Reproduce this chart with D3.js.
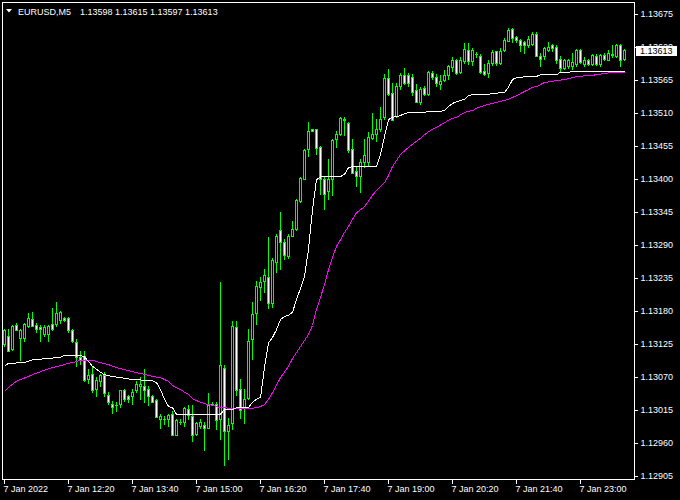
<!DOCTYPE html>
<html><head><meta charset="utf-8">
<script src="https://cdn.jsdelivr.net/npm/d3@7"></script>
<style>html,body{margin:0;padding:0;background:#000;overflow:hidden}</style>
</head><body>
<svg id="c" width="680" height="500"></svg>
<script>
const symbolTitle = "EURUSD,M5";
const titleOHLC = "1.13598 1.13615 1.13597 1.13613";
const lastPrice = 1.13613;

const opens = [
1.13123,1.13137,1.13115,1.13155,1.13134,1.13134,1.13154,1.13165,1.13155,1.13152,
1.13140,1.13140,1.13157,1.13157,1.13164,1.13167,1.13166,1.13146,1.13126,1.13101,
1.13104,1.13065,1.13073,1.13048,1.13061,1.13072,1.13038,1.13023,1.13022,1.13023,
1.13047,1.13036,1.13037,1.13046,1.13053,1.13053,1.13048,1.13036,1.13030,1.12998,
1.12998,1.12998,1.13007,1.12972,1.12994,1.12994,1.13015,1.13003,1.12973,1.12987,
1.12988,1.12984,1.13024,1.13023,1.12999,1.13083,1.12979,1.12991,1.13151,1.13048,
1.13016,1.13033,1.13131,1.13175,1.13218,1.13228,1.13235,1.13192,1.13260,1.13313,
1.13293,1.13270,1.13304,1.13315,1.13361,1.13399,1.13448,1.13482,1.13482,1.13451,
1.13399,1.13378,1.13399,1.13465,1.13474,1.13498,1.13492,1.13449,1.13412,1.13403,
1.13426,1.13426,1.13466,1.13473,1.13482,1.13501,1.13566,1.13542,1.13504,1.13553,
1.13572,1.13572,1.13569,1.13547,1.13527,1.13550,1.13540,1.13575,1.13568,1.13557,
1.13563,1.13571,1.13585,1.13596,1.13576,1.13595,1.13614,1.13595,1.13606,1.13604,
1.13579,1.13575,1.13591,1.13611,1.13591,1.13613,1.13629,1.13649,1.13635,1.13630,
1.13626,1.13621,1.13623,1.13640,1.13604,1.13603,1.13614,1.13622,1.13619,1.13599,
1.13583,1.13586,1.13586,1.13590,1.13614,1.13590,1.13597,1.13590,1.13604,1.13590,
1.13605,1.13597,1.13606,1.13603,1.13621,1.13598];
const highs = [
1.13149,1.13148,1.13155,1.13159,1.13148,1.13159,1.13175,1.13176,1.13159,1.13155,
1.13155,1.13155,1.13184,1.13193,1.13179,1.13168,1.13168,1.13148,1.13132,1.13112,
1.13112,1.13082,1.13087,1.13069,1.13073,1.13076,1.13043,1.13029,1.13026,1.13047,
1.13048,1.13038,1.13048,1.13061,1.13069,1.13082,1.13054,1.13039,1.13032,1.13007,
1.13004,1.13007,1.13012,1.12998,1.12998,1.13018,1.13021,1.13021,1.12993,1.12998,
1.12993,1.13042,1.13027,1.13026,1.13226,1.13088,1.13000,1.13161,1.13161,1.13065,
1.13049,1.13149,1.13193,1.13229,1.13235,1.13249,1.13301,1.13266,1.13307,1.13343,
1.13299,1.13307,1.13329,1.13365,1.13401,1.13449,1.13494,1.13482,1.13482,1.13454,
1.13404,1.13432,1.13465,1.13479,1.13502,1.13501,1.13493,1.13465,1.13418,1.13432,
1.13465,1.13477,1.13509,1.13498,1.13518,1.13573,1.13581,1.13559,1.13559,1.13575,
1.13584,1.13575,1.13573,1.13557,1.13552,1.13554,1.13578,1.13579,1.13574,1.13571,
1.13580,1.13588,1.13601,1.13599,1.13601,1.13625,1.13625,1.13617,1.13610,1.13606,
1.13590,1.13596,1.13613,1.13612,1.13617,1.13634,1.13650,1.13650,1.13636,1.13632,
1.13629,1.13636,1.13643,1.13643,1.13609,1.13618,1.13627,1.13623,1.13621,1.13603,
1.13598,1.13598,1.13609,1.13615,1.13615,1.13601,1.13599,1.13606,1.13606,1.13607,
1.13609,1.13614,1.13621,1.13623,1.13623,1.13615];
const lows = [
1.13120,1.13111,1.13114,1.13146,1.13096,1.13129,1.13151,1.13153,1.13144,1.13129,
1.13137,1.13129,1.13146,1.13154,1.13159,1.13162,1.13143,1.13126,1.13087,1.13090,
1.13062,1.13058,1.13043,1.13036,1.13054,1.13037,1.13023,1.13008,1.13011,1.13019,
1.13029,1.13027,1.13023,1.13043,1.13032,1.13026,1.13021,1.13026,1.13001,1.12984,
1.12990,1.12987,1.12971,1.12971,1.12990,1.12987,1.12998,1.12962,1.12971,1.12984,
1.12947,1.12983,1.13022,1.12982,1.12965,1.12922,1.12931,1.12982,1.13038,1.13000,
1.12992,1.13032,1.13099,1.13157,1.13196,1.13210,1.13183,1.13185,1.13243,1.13248,
1.13265,1.13266,1.13303,1.13314,1.13360,1.13398,1.13436,1.13478,1.13440,1.13374,
1.13349,1.13365,1.13371,1.13451,1.13471,1.13472,1.13443,1.13408,1.13386,1.13377,
1.13419,1.13421,1.13465,1.13462,1.13479,1.13498,1.13538,1.13496,1.13501,1.13549,
1.13557,1.13554,1.13538,1.13526,1.13524,1.13538,1.13539,1.13565,1.13554,1.13549,
1.13561,1.13565,1.13579,1.13574,1.13575,1.13591,1.13590,1.13589,1.13601,1.13575,
1.13571,1.13569,1.13589,1.13589,1.13590,1.13612,1.13628,1.13626,1.13626,1.13611,
1.13609,1.13618,1.13621,1.13603,1.13586,1.13599,1.13611,1.13612,1.13592,1.13579,
1.13582,1.13583,1.13582,1.13587,1.13592,1.13587,1.13588,1.13589,1.13588,1.13587,
1.13596,1.13596,1.13601,1.13601,1.13587,1.13597];
const closes = [
1.13146,1.13112,1.13153,1.13147,1.13146,1.13156,1.13167,1.13154,1.13148,1.13148,
1.13151,1.13153,1.13149,1.13175,1.13176,1.13164,1.13146,1.13129,1.13101,1.13096,
1.13064,1.13072,1.13046,1.13063,1.13072,1.13042,1.13026,1.13019,1.13021,1.13047,
1.13031,1.13031,1.13043,1.13056,1.13057,1.13046,1.13037,1.13027,1.13002,1.13003,
1.12998,1.13005,1.12972,1.12997,1.12994,1.13017,1.13005,1.12972,1.12991,1.12993,
1.12983,1.13021,1.13024,1.12996,1.13088,1.12978,1.12989,1.13153,1.13046,1.13013,
1.13031,1.13128,1.13173,1.13220,1.13226,1.13239,1.13192,1.13263,1.13304,1.13293,
1.13271,1.13304,1.13315,1.13363,1.13400,1.13446,1.13478,1.13479,1.13450,1.13399,
1.13374,1.13399,1.13464,1.13474,1.13500,1.13496,1.13446,1.13409,1.13403,1.13426,
1.13438,1.13468,1.13473,1.13482,1.13499,1.13566,1.13540,1.13497,1.13554,1.13572,
1.13559,1.13559,1.13544,1.13527,1.13549,1.13540,1.13576,1.13569,1.13558,1.13561,
1.13572,1.13586,1.13597,1.13575,1.13597,1.13615,1.13595,1.13613,1.13606,1.13576,
1.13574,1.13591,1.13610,1.13591,1.13611,1.13630,1.13647,1.13634,1.13630,1.13621,
1.13621,1.13631,1.13640,1.13604,1.13598,1.13616,1.13619,1.13616,1.13597,1.13583,
1.13596,1.13596,1.13594,1.13614,1.13594,1.13597,1.13590,1.13605,1.13590,1.13605,
1.13598,1.13608,1.13605,1.13621,1.13596,1.13613];

const whiteBars = [0,1,5,7,11,14,15,19,20,21,22,23,24,25,27,30,32,37,38,39,40,41,42,43,54,55,57,58,61,62,63,64,65,66,67,68,69,70,71,72,73,74,75,76,77,78,79,84,85,86,87,93,94,95,96,97,98,99,100,101,105,106,109,110,111,112,113,114,115,116,117,121,122,125,126,127,128,129,130,133,134,138,139,141,142,155];
const whiteValues = [1.13087,1.13092,1.13093,1.13098,1.13100,1.13102,1.13105,1.13105,1.13103,1.13095,1.13087,1.13082,1.13077,1.13073,1.13070,1.13067,1.13065,1.13063,1.13060,1.13048,1.13032,1.13020,1.13018,1.13007,1.13007,1.13015,1.13015,1.13018,1.13018,1.13027,1.13032,1.13035,1.13085,1.13126,1.13135,1.13148,1.13165,1.13170,1.13172,1.13177,1.13198,1.13217,1.13237,1.13282,1.13348,1.13398,1.13403,1.13403,1.13407,1.13418,1.13420,1.13420,1.13440,1.13470,1.13498,1.13502,1.13503,1.13505,1.13508,1.13510,1.13510,1.13512,1.13512,1.13513,1.13520,1.13525,1.13528,1.13530,1.13532,1.13538,1.13540,1.13540,1.13542,1.13543,1.13552,1.13565,1.13568,1.13568,1.13570,1.13570,1.13573,1.13573,1.13577,1.13577,1.13578,1.13578];

const magentaBars = [0,1,2,3,4,6,7,9,11,12,14,16,17,19,22,24,26,27,29,31,32,34,36,37,39,41,42,44,46,47,49,51,52,54,57,62,63,64,65,66,67,69,71,72,74,76,77,78,79,80,81,82,83,84,85,86,87,88,90,92,93,95,96,97,99,101,102,104,105,106,107,108,110,111,112,113,115,116,117,118,120,122,123,125,126,127,128,130,131,132,133,135,137,138,140,142,143,147,148,152,155];
const magentaValues = [1.13045,1.13052,1.13057,1.13062,1.13065,1.13070,1.13073,1.13078,1.13083,1.13085,1.13088,1.13092,1.13093,1.13097,1.13097,1.13093,1.13090,1.13087,1.13083,1.13080,1.13078,1.13075,1.13072,1.13070,1.13068,1.13062,1.13055,1.13048,1.13040,1.13033,1.13027,1.13023,1.13022,1.13018,1.13017,1.13017,1.13018,1.13020,1.13023,1.13032,1.13043,1.13068,1.13087,1.13100,1.13120,1.13140,1.13155,1.13182,1.13202,1.13223,1.13248,1.13268,1.13287,1.13298,1.13310,1.13320,1.13332,1.13343,1.13353,1.13372,1.13380,1.13393,1.13405,1.13420,1.13440,1.13452,1.13457,1.13467,1.13473,1.13478,1.13482,1.13485,1.13493,1.13497,1.13500,1.13502,1.13510,1.13512,1.13513,1.13517,1.13522,1.13525,1.13527,1.13530,1.13532,1.13535,1.13538,1.13545,1.13548,1.13552,1.13553,1.13560,1.13562,1.13563,1.13565,1.13568,1.13570,1.13572,1.13573,1.13577,1.13577];

const timeLabels = ["7 Jan 2022","7 Jan 12:20","7 Jan 13:40","7 Jan 15:00","7 Jan 16:20","7 Jan 17:40","7 Jan 19:00","7 Jan 20:20","7 Jan 21:40","7 Jan 23:00"];
const timeLabelBars = [0,16,32,48,64,80,96,112,128,144];
const priceTicks = [1.12905,1.12960,1.13015,1.13070,1.13125,1.13180,1.13235,1.13290,1.13345,1.13400,1.13455,1.13510,1.13565,1.13620,1.13675];

const FONT = "'Liberation Sans', Arial, sans-serif";
const svg = d3.select("#c");
svg.append("rect").attr("width",680).attr("height",500).attr("fill","#000");

const x = d3.scaleLinear().domain([0,155]).range([4.5, 4.5+4*155]);
const y = d3.scaleLinear().domain([1.12905,1.13675]).range([475.5,13.5]);
const row = v => Math.round(y(v)-0.5);

const candles = opens.map((o,i)=>({i,o,h:highs[i],l:lows[i],c:closes[i]}));
const gC = svg.append("g").attr("shape-rendering","crispEdges");
const cg = gC.selectAll("g").data(candles).join("g");
cg.append("rect")
  .attr("x",d=>x(d.i)-0.5).attr("width",1)
  .attr("y",d=>row(d.h)).attr("height",d=>row(d.l)-row(d.h)+1)
  .attr("fill","#00ff00");
cg.append("rect")
  .attr("x",d=>x(d.i)-1.5).attr("width",3)
  .attr("y",d=>row(Math.max(d.o,d.c)))
  .attr("height",d=>row(Math.min(d.o,d.c))-row(Math.max(d.o,d.c))+1)
  .attr("fill","#00ff00");
cg.filter(d=>row(Math.min(d.o,d.c))-row(Math.max(d.o,d.c))>=2).append("rect")
  .attr("x",d=>x(d.i)-0.5).attr("width",1)
  .attr("y",d=>row(Math.max(d.o,d.c))+1)
  .attr("height",d=>row(Math.min(d.o,d.c))-row(Math.max(d.o,d.c))-1)
  .attr("fill",d=>d.c<d.o?"#ffffff":"#000000");

const line = d3.line().x(d=>x(d[0])).y(d=>y(d[1]));
svg.append("path").datum(magentaBars.map((b,k)=>[b,magentaValues[k]]))
  .attr("d",line).attr("fill","none").attr("stroke","#ff00ff").attr("stroke-width",1)
  .attr("shape-rendering","crispEdges");
svg.append("path").datum(whiteBars.map((b,k)=>[b,whiteValues[k]]))
  .attr("d",line).attr("fill","none").attr("stroke","#ffffff").attr("stroke-width",1)
  .attr("shape-rendering","crispEdges");

// frame
svg.append("rect").attr("x",2.5).attr("y",2.5).attr("width",632).attr("height",477)
  .attr("fill","none").attr("stroke","#fff").attr("shape-rendering","crispEdges");

// right axis
const ya = svg.append("g").attr("transform","translate(634.5,0)")
  .call(d3.axisRight(y).tickValues(priceTicks).tickSize(3).tickPadding(3).tickFormat(d3.format(".5f")));
ya.select(".domain").remove();
ya.selectAll("line").attr("stroke","#fff").attr("shape-rendering","crispEdges");
ya.selectAll("text").attr("fill","#fff").style("font-family",FONT).style("font-size","9px");

// bottom axis
const xa = svg.append("g").attr("transform","translate(-1,479.5)")
  .call(d3.axisBottom(x).tickValues(timeLabelBars).tickSize(4).tickPadding(2).tickFormat((d,k)=>timeLabels[k]));
xa.select(".domain").remove();
xa.selectAll("line").attr("stroke","#fff").attr("shape-rendering","crispEdges");
xa.selectAll("text").attr("fill","#fff").attr("text-anchor","start").attr("x",-0.5)
  .style("font-family",FONT).style("font-size","9px");

// current price label
const ly = y(lastPrice);
svg.append("rect").attr("x",636).attr("y",Math.round(ly)-5.5).attr("width",41).attr("height",10)
  .attr("fill","#fff").attr("shape-rendering","crispEdges");
svg.append("text").attr("x",640).attr("y",ly).attr("dy","0.32em").attr("fill","#000")
  .style("font-family",FONT).style("font-size","9px").text(d3.format(".5f")(lastPrice));

// title
svg.append("path").attr("d","M6,9 L12,9 L9,12.5 Z").attr("fill","#fff");
svg.append("text").attr("x",18).attr("y",14.5).attr("fill","#fff")
  .style("font-family",FONT).style("font-size","9px").text(symbolTitle);
svg.append("text").attr("x",80).attr("y",14.5).attr("fill","#fff")
  .style("font-family",FONT).style("font-size","9px").text(titleOHLC);
</script>
</body></html>
